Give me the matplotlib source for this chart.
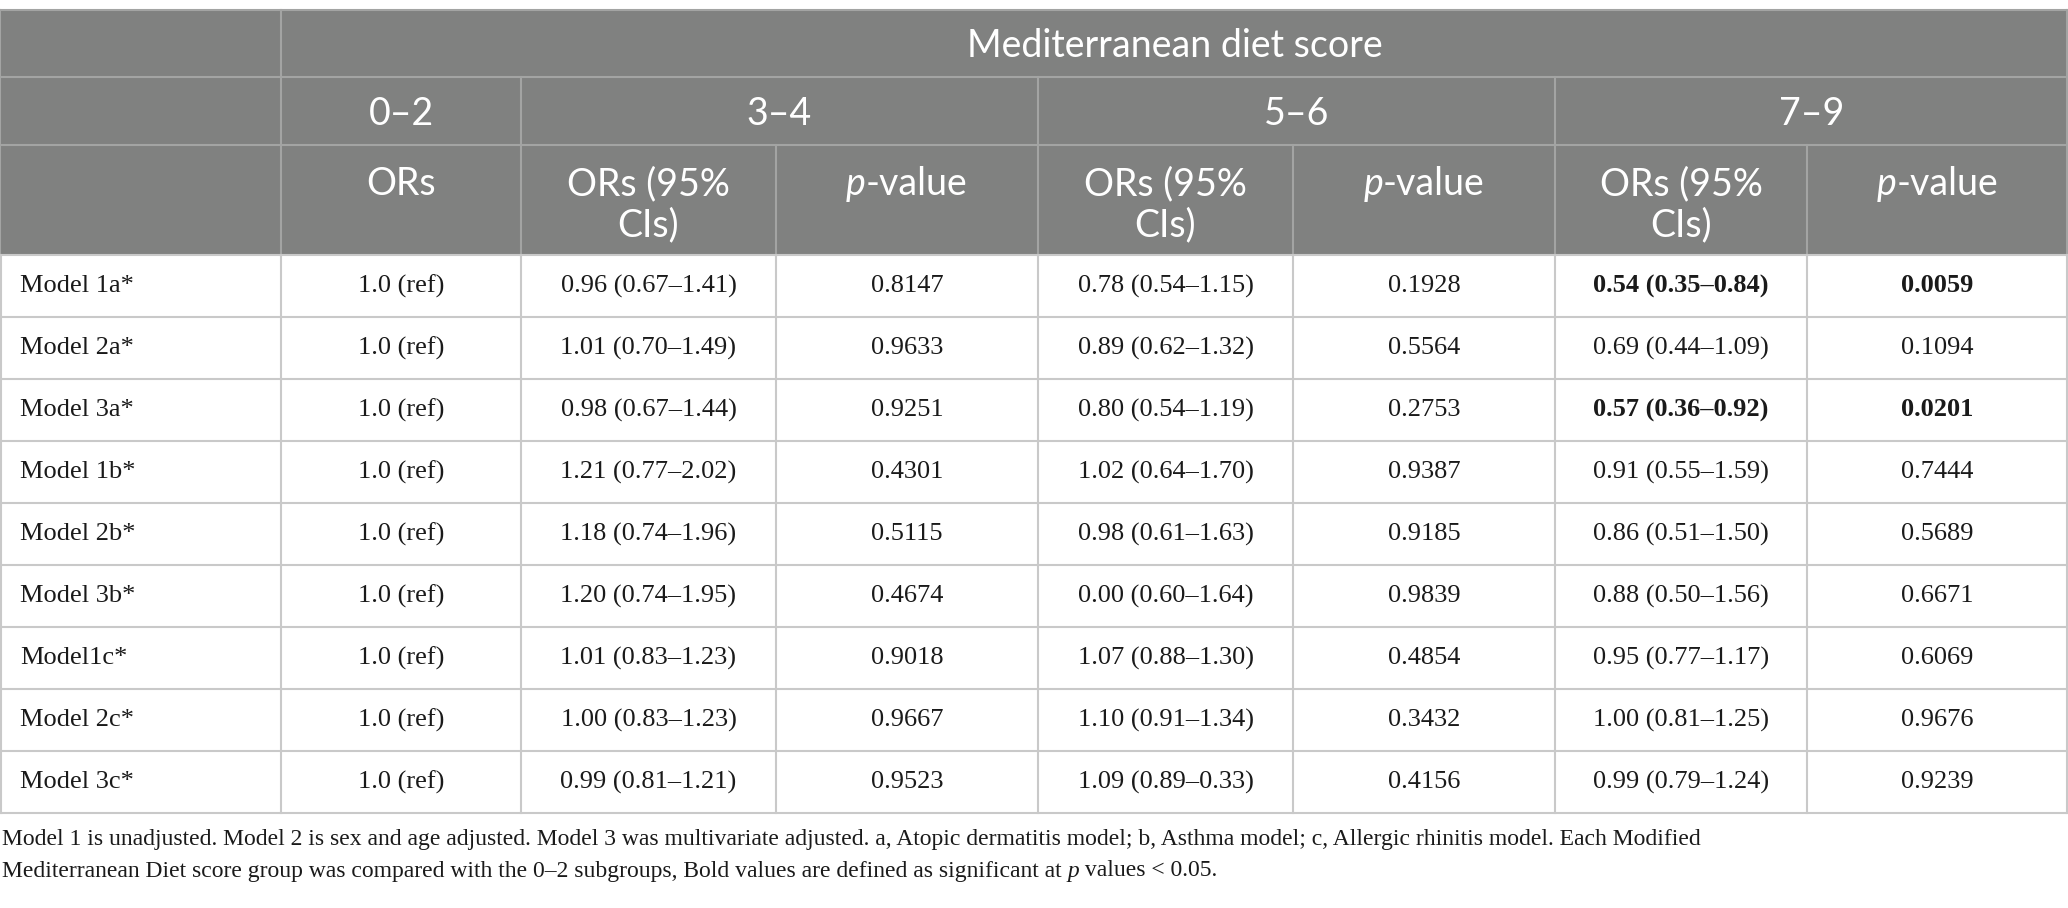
import matplotlib

matplotlib.use("Agg")
import matplotlib.pyplot as plt
from matplotlib.patches import Rectangle

W, H = 2068, 908

# ---- table content ----
group_title = "Mediterranean diet score"
score_groups = ["0–2", "3–4", "5–6", "7–9"]
row_labels = [
    "Model 1a*", "Model 2a*", "Model 3a*",
    "Model 1b*", "Model 2b*", "Model 3b*",
    "Model1c*", "Model 2c*", "Model 3c*",
]
ref_02 = ["1.0 (ref)"] * 9
or_34 = [
    "0.96 (0.67–1.41)", "1.01 (0.70–1.49)", "0.98 (0.67–1.44)",
    "1.21 (0.77–2.02)", "1.18 (0.74–1.96)", "1.20 (0.74–1.95)",
    "1.01 (0.83–1.23)", "1.00 (0.83–1.23)", "0.99 (0.81–1.21)",
]
p_34 = ["0.8147", "0.9633", "0.9251", "0.4301", "0.5115", "0.4674", "0.9018", "0.9667", "0.9523"]
or_56 = [
    "0.78 (0.54–1.15)", "0.89 (0.62–1.32)", "0.80 (0.54–1.19)",
    "1.02 (0.64–1.70)", "0.98 (0.61–1.63)", "0.00 (0.60–1.64)",
    "1.07 (0.88–1.30)", "1.10 (0.91–1.34)", "1.09 (0.89–0.33)",
]
p_56 = ["0.1928", "0.5564", "0.2753", "0.9387", "0.9185", "0.9839", "0.4854", "0.3432", "0.4156"]
or_79 = [
    "0.54 (0.35–0.84)", "0.69 (0.44–1.09)", "0.57 (0.36–0.92)",
    "0.91 (0.55–1.59)", "0.86 (0.51–1.50)", "0.88 (0.50–1.56)",
    "0.95 (0.77–1.17)", "1.00 (0.81–1.25)", "0.99 (0.79–1.24)",
]
p_79 = ["0.0059", "0.1094", "0.0201", "0.7444", "0.5689", "0.6671", "0.6069", "0.9676", "0.9239"]
significant_rows = [0, 2]  # bold in the 7-9 columns

footnote_1 = ("Model 1 is unadjusted. Model 2 is sex and age adjusted. Model 3 was multivariate "
              "adjusted. a, Atopic dermatitis model; b, Asthma model; c, Allergic rhinitis model. Each Modified")
footnote_2 = ("Mediterranean Diet score group was compared with the 0–2 subgroups, Bold values are "
              "defined as significant at")

# ---- layout (pixels) ----
col_edges = [0, 281, 521, 776, 1038, 1293, 1555, 1807, 2068]
head_edges = [10, 77, 145, 255]
row_h = 62
header_bg = "#808180"
header_line = "#a3a4a3"
body_line = "#c9c9c9"
sans = "Lato"
serif = "Liberation Serif"

fig = plt.figure(figsize=(W / 100, H / 100), dpi=100)
ax = fig.add_axes([0, 0, 1, 1])
ax.set_xlim(0, W)
ax.set_ylim(H, 0)
ax.axis("off")
renderer = fig.canvas.get_renderer()


def draw_segments(x, y, segments, ha="center", **kw):
    """Draw a run of differently styled text pieces next to each other."""
    texts, widths = [], []
    for s, props in segments:
        t = ax.text(0, y, s, va="center", ha="left", **kw, **props)
        widths.append(t.get_window_extent(renderer).width)
        texts.append(t)
    start = x - sum(widths) / 2 if ha == "center" else x
    for t, w in zip(texts, widths):
        t.set_x(start)
        start += w


# header background
ax.add_patch(Rectangle((0, head_edges[0]), W, head_edges[-1] - head_edges[0],
                       facecolor=header_bg, edgecolor="none"))

# header lines
for y in head_edges[:-1]:
    ax.plot([0, W], [y, y], color=header_line, lw=1.5)
ax.plot([col_edges[1]] * 2, [head_edges[0], head_edges[3]], color=header_line, lw=1.5)
for xe in [col_edges[2], col_edges[4], col_edges[6]]:
    ax.plot([xe] * 2, [head_edges[1], head_edges[3]], color=header_line, lw=1.5)
for xe in [col_edges[3], col_edges[5], col_edges[7]]:
    ax.plot([xe] * 2, [head_edges[2], head_edges[3]], color=header_line, lw=1.5)
ax.plot([0, 0], [head_edges[0], head_edges[3]], color=header_line, lw=1.5)
ax.plot([W - 1, W - 1], [head_edges[0], head_edges[3]], color=header_line, lw=1.5)

hkw = dict(color="white", fontsize=27, family=sans)
ax.text((col_edges[1] + W) / 2, 46, group_title, ha="center", va="center", **hkw)

spans = [(1, 2), (2, 4), (4, 6), (6, 8)]
for label, (a, b) in zip(score_groups, spans):
    ax.text((col_edges[a] + col_edges[b]) / 2, 114, label, ha="center", va="center", **hkw)

line1_y, line2_y = 184, 225
ax.text((col_edges[1] + col_edges[2]) / 2, line1_y, "ORs", ha="center", va="center", **hkw)
for c in [2, 4, 6]:
    cx = (col_edges[c] + col_edges[c + 1]) / 2
    ax.text(cx, line1_y, "ORs (95%", ha="center", va="center", **hkw)
    ax.text(cx, line2_y, "CIs)", ha="center", va="center", **hkw)
    px = (col_edges[c + 1] + col_edges[c + 2]) / 2
    draw_segments(px, line1_y, [("p", dict(style="italic")), ("-value", {})], **hkw)

# body
columns = [ref_02, or_34, p_34, or_56, p_56, or_79, p_79]
n_rows = len(row_labels)
body_top = head_edges[-1]
body_bottom = body_top + n_rows * row_h
for i in range(n_rows + 1):
    y = body_top + i * row_h
    ax.plot([0, W], [y, y], color=body_line, lw=1.5)
for xe in col_edges:
    xe = min(max(xe, 0.75), W - 0.75)
    ax.plot([xe, xe], [body_top, body_bottom], color=body_line, lw=1.5)

bkw = dict(fontsize=19, family=serif, color="#1a1a1a")
for i, label in enumerate(row_labels):
    cy = body_top + i * row_h + row_h / 2
    ax.text(20, cy, label, ha="left", va="center", **bkw)
    for j, col in enumerate(columns):
        cx = (col_edges[j + 1] + col_edges[j + 2]) / 2
        weight = "bold" if (j >= 5 and i in significant_rows) else "normal"
        ax.text(cx, cy, col[i], ha="center", va="center", fontweight=weight, **bkw)

# footnote
fkw = dict(fontsize=17, family=serif, color="#1a1a1a")
ax.text(2, 839, footnote_1, ha="left", va="center", **fkw)
draw_segments(2, 871, [(footnote_2, {}), (" p", dict(style="italic")),
                       (" values < 0.05.", {})], ha="left", **fkw)

fig.savefig("out.png", dpi=100)
